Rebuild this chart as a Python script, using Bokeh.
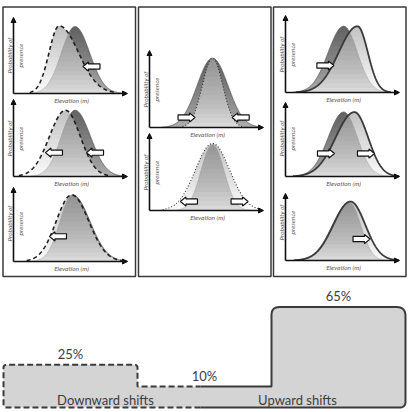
import numpy as np
from bokeh.plotting import figure
from bokeh.layouts import column
from bokeh.models import Range1d, Arrow, NormalHead, ColumnDataSource
from bokeh.embed import file_html
from bokeh.resources import INLINE
from bokeh.core.properties import value

# ---------------- data ----------------
# schematic distributions, local units: u = elevation fraction, v = probability fraction
panel_names = ["L1", "L2", "L3", "M1", "M2", "R1", "R2", "R3"]
orig_c  = [0.54, 0.54, 0.52, 0.553, 0.553, 0.51, 0.51, 0.56]
orig_sl = [0.12, 0.12, 0.11, 0.135, 0.10, 0.135, 0.135, 0.15]
orig_sr = [0.128, 0.135, 0.15, 0.135, 0.10, 0.12, 0.12, 0.10]
orig_h  = [0.88, 0.86, 0.90, 0.90, 0.85, 0.86, 0.87, 0.86]
new_c   = [0.40, 0.456, 0.51, 0.553, 0.553, 0.632, 0.605, 0.57]
new_sl  = [0.088, 0.14, 0.135, 0.09, 0.15, 0.165, 0.165, 0.15]
new_sr  = [0.17, 0.13, 0.15, 0.09, 0.15, 0.09, 0.12, 0.13]
new_h   = [0.89, 0.86, 0.90, 0.90, 0.87, 0.86, 0.87, 0.88]
new_style = ["dashed", "dashed", "dashed", "dotted", "dotted", "solid", "solid", "solid"]

arrow_panel = [0, 1, 1, 2, 3, 3, 4, 4, 5, 6, 6, 7]
arrow_u = [0.684, 0.355, 0.715, 0.39, 0.325, 0.80, 0.346, 0.79, 0.35, 0.355, 0.706, 0.667]
arrow_v = [0.355, 0.31, 0.31, 0.34, 0.13, 0.13, 0.117, 0.117, 0.35, 0.31, 0.31, 0.32]
arrow_dir = [-1, -1, -1, -1, 1, -1, -1, 1, 1, 1, 1, 1]

shift_cats = ["Downward", "Stable", "Upward"]
shift_pct = [25, 10, 65]
group_labels = ["Downward shifts", "Upward shifts"]
x_label = "Elevation (m)"
y_label = ["Probability of", "presence"]

# ---------------- layout (pixel space of top canvas) ----------------
W, H_TOP, H_BOT = 409, 285, 127
panel_x0 = [13, 13, 13, 149, 149, 285, 285, 285]
panel_y0 = [93, 176, 261, 127, 210, 92, 176, 260]
panel_top = [17, 99, 187, 50, 133, 15, 102, 193]
PW = 114
box_l = [2.5, 138.0, 273.0]
box_r = [135.0, 270.5, 405.5]
box_t, box_b = 6.5, 276.0

FONT = value("Lato")

p1 = figure(width=W, height=H_TOP, x_range=Range1d(0, W), y_range=Range1d(H_TOP, 0),
            output_backend="svg", toolbar_location=None, min_border=0,
            x_axis_location=None, y_axis_location=None, outline_line_color=None)
p1.grid.grid_line_color = None

u = np.linspace(0, 1, 401)


def curve(c, sl, sr, h):
    s = np.where(u < c, sl, sr)
    return h * np.exp(-0.5 * ((u - c) / s) ** 2)


def to_px(i, uu, vv):
    hh = panel_y0[i] - panel_top[i]
    return panel_x0[i] + np.asarray(uu) * PW, panel_y0[i] - np.asarray(vv) * hh


orig = [curve(orig_c[i], orig_sl[i], orig_sr[i], orig_h[i]) for i in range(8)]
new = [curve(new_c[i], new_sl[i], new_sr[i], new_h[i]) for i in range(8)]


def cap_polys(curves, L):
    xs, ys = [], []
    for i, v in enumerate(curves):
        m = v > L
        if m.sum() < 2:
            continue
        uu = u[m]
        vv = v[m]
        uu = np.concatenate([uu, [uu[-1], uu[0]]])
        vv = np.concatenate([vv, [L, L]])
        x, y = to_px(i, uu, vv)
        xs.append(list(x))
        ys.append(list(y))
    return xs, ys


levels = np.linspace(0.06, 0.84, 14)

# original distribution (dark)
xs, ys = cap_polys(orig, 0.002)
p1.patches(xs, ys, fill_color="#ababab", line_color=None)
for L in levels:
    xs, ys = cap_polys(orig, L)
    p1.patches(xs, ys, fill_color="black", fill_alpha=0.034, line_color=None)
ox, oy = [], []
for i in range(8):
    m = orig[i] > 0.004
    x, y = to_px(i, u[m], orig[i][m])
    ox.append(list(x)); oy.append(list(y))
p1.multi_line(ox, oy, line_color="#5e5e5e", line_width=0.9)

# new distribution (light, semi-transparent)
xs, ys = cap_polys(new, 0.002)
p1.patches(xs, ys, fill_color="#f6f6f6", fill_alpha=0.62, line_color=None)
for L in levels:
    xs, ys = cap_polys(new, L)
    p1.patches(xs, ys, fill_color="black", fill_alpha=0.016, line_color=None)

styles = {"dashed": dict(line_dash="4 3", line_color="#1e1e1e", line_width=1.6),
          "dotted": dict(line_dash="1 2", line_color="#2a2a2a", line_width=1.1),
          "solid": dict(line_dash="solid", line_color="#3a3a3a", line_width=1.8)}
for st, kw in styles.items():
    lx, ly = [], []
    for i in range(8):
        if new_style[i] != st:
            continue
        thr = 0.004 if st == "solid" else 0.012
        m = new[i] > thr
        x, y = to_px(i, u[m], new[i][m])
        lx.append(list(x)); ly.append(list(y))
    p1.multi_line(lx, ly, **kw)

# block arrows showing shift direction
axs, ays = [], []
for k in range(len(arrow_panel)):
    cx, cy = to_px(arrow_panel[k], arrow_u[k], arrow_v[k])
    cx, cy = float(cx), float(cy)
    d = arrow_dir[k]
    x0, x1 = cx - d * 8.5, cx + d * 8.5
    xn = x1 - d * 5.5
    axs.append([x0, xn, xn, x1, xn, xn, x0])
    ays.append([cy - 2.6, cy - 2.6, cy - 4.6, cy, cy + 4.6, cy + 2.6, cy + 2.6])
p1.patches(axs, ays, fill_color="white", line_color="#111111", line_width=1.2)

# axes with arrow heads
ax_src = dict(x0=[], y0=[], x1=[], y1=[])
for i in range(8):
    ax_src["x0"] += [panel_x0[i], panel_x0[i]]
    ax_src["y0"] += [panel_y0[i], panel_y0[i]]
    ax_src["x1"] += [panel_x0[i] + PW, panel_x0[i]]
    ax_src["y1"] += [panel_y0[i], panel_top[i]]
p1.add_layout(Arrow(end=NormalHead(size=5, fill_color="#111111", line_color="#111111", line_width=1),
                    x_start="x0", y_start="y0", x_end="x1", y_end="y1",
                    line_color="#111111", line_width=1.6,
                    source=ColumnDataSource(ax_src)))

# axis labels
p1.text(x=[panel_x0[i] + 58 for i in range(8)], y=[panel_y0[i] + 7 for i in range(8)],
        text=[x_label] * 8, text_font=FONT, text_font_style="italic", text_font_size="6.5px",
        text_color="#5a5a5a", text_align="center", text_baseline="middle")
p1.text(x=[panel_x0[i] - 4.5 for i in range(8)], y=[panel_y0[i] - 38 for i in range(8)],
        text=[y_label[0]] * 8, angle=np.pi / 2, text_font=FONT, text_font_style="italic",
        text_font_size="6.5px", text_color="#5a5a5a", text_align="center", text_baseline="middle")
p1.text(x=[panel_x0[i] + 7 for i in range(8)], y=[panel_y0[i] - 38 for i in range(8)],
        text=[y_label[1]] * 8, angle=np.pi / 2, text_font=FONT, text_font_style="italic",
        text_font_size="6.5px", text_color="#5a5a5a", text_align="center", text_baseline="middle")

# panel boxes
p1.quad(left=box_l, right=box_r, top=[box_t] * 3, bottom=[box_b] * 3,
        fill_color=None, line_color="#3a3a3a", line_width=1.5)

# ---------------- bottom step chart ----------------
SX = 134.0     # px per category segment
SY = 1.446     # px per percent
BASE = -4.5    # outline bottom (padding below zero)
ZERO_PX = 115.5  # px from top of bottom canvas to 0 %
X0_PX = 3.0
split = 1.47

p2 = figure(width=W, height=H_BOT,
            x_range=Range1d(-X0_PX / SX, (W - X0_PX) / SX),
            y_range=Range1d(-(H_BOT - ZERO_PX) / SY, ZERO_PX / SY),
            output_backend="svg", toolbar_location=None, min_border=0,
            x_axis_location=None, y_axis_location=None, outline_line_color=None)
p2.grid.grid_line_color = None

rx, ry = 1 / SX, 1 / SY


def rounded(pts, radii, closed=False):
    out = []
    n = len(pts)
    for i, (x, y) in enumerate(pts):
        r = radii[i]
        if r == 0 or (not closed and (i == 0 or i == n - 1)):
            out.append((x, y))
            continue
        px_, py_ = pts[i - 1]
        nx_, ny_ = pts[(i + 1) % n]
        din = (np.sign(x - px_), np.sign(y - py_))
        dout = (np.sign(nx_ - x), np.sign(ny_ - y))
        A = (x - din[0] * r * rx, y - din[1] * r * ry)
        B = (x + dout[0] * r * rx, y + dout[1] * r * ry)
        for t in np.linspace(0, 1, 9):
            out.append(((1 - t) ** 2 * A[0] + 2 * (1 - t) * t * x + t ** 2 * B[0],
                        (1 - t) ** 2 * A[1] + 2 * (1 - t) * t * y + t ** 2 * B[1]))
    return out


d, s, up = shift_pct
fill_pts = [(split, BASE), (0, BASE), (0, d), (1, d), (1, s), (2, s), (2, up), (3, up), (3, BASE)]
fill_r = [0, 3, 3, 3, 0, 0, 8, 9, 6]
fp = rounded(fill_pts, fill_r, closed=True)
p2.patch([a for a, b in fp], [b for a, b in fp], fill_color="#d4d4d4", line_color=None)

dash_pts = [(split, BASE), (0, BASE), (0, d), (1, d), (1, s), (split, s)]
dp = rounded(dash_pts, [0, 3, 3, 3, 0, 0])
p2.line([a for a, b in dp], [b for a, b in dp], line_color="#3a3a3a", line_width=2,
        line_dash="6 3")
solid_pts = [(split, s), (2, s), (2, up), (3, up), (3, BASE), (split, BASE)]
sp = rounded(solid_pts, [0, 0, 8, 9, 6, 0])
p2.line([a for a, b in sp], [b for a, b in sp], line_color="#3a3a3a", line_width=2)

p2.text(x=[i + 0.5 for i in range(3)], y=[v + 11 / SY for v in shift_pct],
        text=[f"{v}%" for v in shift_pct], text_font=FONT, text_font_size="13px",
        text_color="#3c3c3c", text_align="center", text_baseline="middle")
p2.text(x=[0.761, 2.194], y=[1.0, 1.0], text=group_labels, text_font=FONT,
        text_font_size="13px", text_color="#3c3c3c", text_align="center",
        text_baseline="middle")

layout = column(p1, p2, spacing=0)
open("out.html", "w").write(file_html(layout, INLINE))
